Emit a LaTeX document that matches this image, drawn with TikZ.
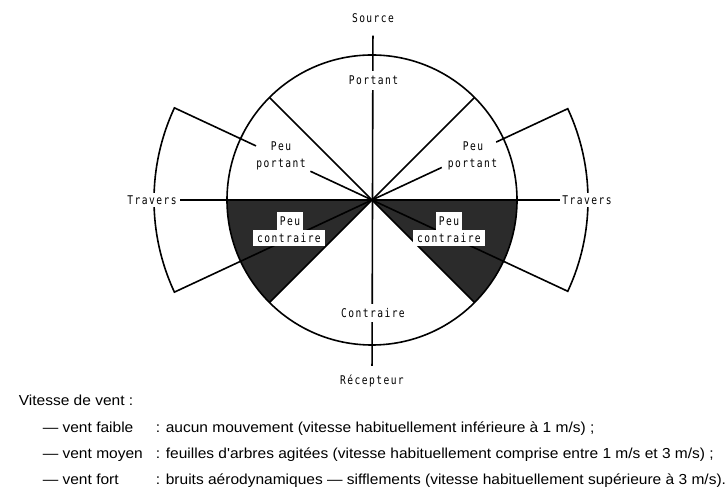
\documentclass[tikz,border=0pt]{standalone}
\usepackage{fontspec}
\newfontfamily\diafont[FakeStretch=0.8,LetterSpace=12]{DejaVu Sans Mono}
\newfontfamily\legfont[FakeStretch=1.07]{Liberation Sans}
\definecolor{darkfill}{gray}{0.17}
\begin{document}
\begin{tikzpicture}[x=1pt,y=1pt,line width=1.6pt,
  dia/.style={font=\diafont\fontsize{12}{14}\selectfont, inner sep=0pt, text height=8.7pt, text depth=0pt},
  labbox/.style={dia, fill=white, inner xsep=2pt, inner ysep=5pt},
  stepbox/.style={dia, fill=white, minimum height=#1, text height=8.7pt},
  leg/.style={font=\legfont\fontsize{14.5}{17}\selectfont, inner sep=0pt, anchor=base west},
  darkwedge/.style={fill=darkfill}]
\useasboundingbox (0,0) rectangle (725,492);
\coordinate (C) at (372,292);
\begin{scope}[shift={(372,292)}]
  \fill[darkwedge] (0,0) -- (180:145) arc[start angle=180,end angle=225,radius=145] -- cycle;
  \fill[darkwedge] (0,0) -- (315:145) arc[start angle=315,end angle=360,radius=145] -- cycle;
  \draw (0,0) circle[radius=145];
  \draw (0,0) -- (45:145);
  \draw (0,0) -- (135:145);
  \draw (0,0) -- (225:145);
  \draw (0,0) -- (315:145);
  % left "Travers" sector
  \draw (0,0) -- (155:68);
  \draw (155:128) -- (155:218) arc[start angle=155,end angle=205,radius=218] -- (0,0);
  % right "Travers" sector
  \draw (0,0) -- (25:77);
  \draw (25:137) -- (25:216) arc[start angle=25,end angle=-25,radius=216] -- (0,0);
\end{scope}

\node[dia] (src) at (373,473.5) {Source};
\node[dia] (rec) at (372,112) {Récepteur};
\draw[shorten <=12pt, shorten >=9pt] (src) -- (rec);

\node[dia, fill=white, inner xsep=1.5pt, inner ysep=2.5pt] (trl) at (152,292) {Travers};
\node[dia, fill=white, inner xsep=1.5pt, inner ysep=2.5pt] (trr) at (587,292) {Travers};
\draw[shorten <=1.5pt] (trl) -- (trr);

\node[labbox] (por) at (373.5,411.5) {Portant};
\node[labbox] (con) at (373,179) {Contraire};

\node[dia] (pp1a) at (281,346) {Peu};
\node[dia] (pp1b) at (281,329) {portant};
\node[dia] (pp2a) at (473,346) {Peu};
\node[dia] (pp2b) at (472.5,329) {portant};

\node[stepbox=18pt, minimum width=26pt] (pc1a) at (290,271) {Peu};
\node[stepbox=16pt, minimum width=72pt] (pc1b) at (289,254) {contraire};
\node[stepbox=18pt, minimum width=26pt] (pc2a) at (449,271) {Peu};
\node[stepbox=16pt, minimum width=72pt] (pc2b) at (449,254) {contraire};

\node[leg] (title) at (18,86) {Vitesse de vent :};
\node[leg] (d1) at (42,59) {— vent faible};
\node[leg] (t1) at (155,59) {: aucun mouvement (vitesse habituellement inférieure à 1 m/s) ;};
\node[leg] (d2) at (42,33) {— vent moyen};
\node[leg] (t2) at (155,33) {: feuilles d'arbres agitées (vitesse habituellement comprise entre 1 m/s et 3 m/s) ;};
\node[leg] (d3) at (42,7) {— vent fort};
\node[leg] (t3) at (155,7) {: bruits aérodynamiques — sifflements (vitesse habituellement supérieure à 3 m/s).};
\end{tikzpicture}
\end{document}
